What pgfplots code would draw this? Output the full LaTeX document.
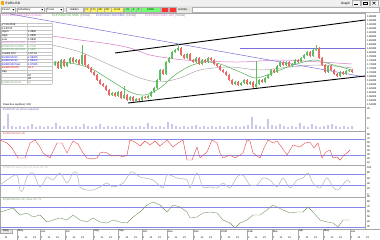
\documentclass[border=0pt]{standalone}
\usepackage{pgfplots}
\pgfplotsset{compat=1.18}
\usepackage{pgfplotstable}
\usepackage{fontspec}
\setmainfont{Liberation Sans}
\definecolor{upc}{RGB}{95,190,95}
\definecolor{dnc}{RGB}{235,105,105}
\definecolor{lvl}{RGB}{135,135,235}
\definecolor{maP}{RGB}{215,120,200}
\definecolor{maG}{RGB}{80,175,80}
\definecolor{maY}{RGB}{170,170,170}
\definecolor{tl}{RGB}{120,110,220}
\definecolor{volc}{RGB}{100,100,200}
\definecolor{rsic}{RGB}{230,70,70}
\definecolor{stc}{RGB}{190,190,190}
\definecolor{momc}{RGB}{115,150,95}
\definecolor{tb}{RGB}{212,208,200}
\newcommand{\tf}{\fontsize{3.2}{3.6}\selectfont}
\newcommand{\tff}{\fontsize{2.6}{3}\selectfont}

\pgfplotstableread{
x o c s
55 1.740 1.755 0
61 1.725 1.765 0
67 1.735 1.750 0
70 1.750 1.775 0
76 1.755 1.765 0
82 1.745 1.790 0.045
112 1.590 1.600 0
118 1.585 1.605 0
124 1.575 1.590 0.040
130 1.565 1.580 0
136 1.560 1.570 0
142 1.565 1.580 0
148 1.575 1.585 0
151 1.585 1.605 0
154 1.605 1.625 0
157 1.625 1.665 0
160 1.665 1.715 0
166 1.695 1.755 0
169 1.755 1.775 0
172 1.775 1.805 0
175 1.805 1.815 0
178 1.815 1.825 0.015
187 1.775 1.795 0
196 1.755 1.775 0
202 1.745 1.765 0
208 1.755 1.775 0
235 1.645 1.655 0
241 1.640 1.650 0
244 1.650 1.665 0
250 1.645 1.655 0
256 1.630 1.645 0.11
259 1.645 1.665 0
265 1.655 1.675 0
268 1.675 1.690 0
271 1.690 1.715 0
277 1.705 1.735 0
280 1.735 1.755 0
286 1.740 1.755 0
292 1.735 1.745 0
295 1.745 1.765 0
301 1.755 1.775 0
304 1.775 1.790 0
307 1.790 1.805 0
313 1.785 1.815 0
316 1.815 1.825 0.01
328 1.705 1.735 0
340 1.685 1.705 0
346 1.695 1.710 0
349 1.710 1.715 0
}\upt

\pgfplotstableread{
x o c s
52 1.750 1.740 0
58 1.755 1.725 0
64 1.765 1.735 0
73 1.775 1.755 0
79 1.765 1.745 0
85 1.790 1.740 0
88 1.740 1.725 0
91 1.725 1.705 0
94 1.705 1.690 0
97 1.690 1.665 0
100 1.665 1.645 0
103 1.645 1.635 0
106 1.635 1.615 0
109 1.615 1.590 0
115 1.600 1.585 0
121 1.605 1.575 0
127 1.590 1.565 0
133 1.580 1.560 0
139 1.570 1.565 0
145 1.580 1.575 0
163 1.715 1.695 0
181 1.825 1.790 0
184 1.790 1.775 0
190 1.795 1.765 0
193 1.765 1.755 0
199 1.775 1.745 0
205 1.765 1.755 0
211 1.775 1.765 0
214 1.765 1.745 0
217 1.745 1.735 0
220 1.735 1.715 0
223 1.715 1.705 0
226 1.705 1.690 0
229 1.690 1.665 0
232 1.665 1.645 0
238 1.655 1.640 0
247 1.665 1.645 0
253 1.655 1.630 0
262 1.665 1.655 0
274 1.715 1.705 0
283 1.755 1.740 0
289 1.755 1.735 0
298 1.765 1.755 0
310 1.805 1.785 0
319 1.825 1.775 0
322 1.775 1.740 0
325 1.740 1.705 0
331 1.735 1.715 0
334 1.715 1.695 0
337 1.695 1.685 0
343 1.705 1.695 0
352 1.715 1.705 0
}\dnt

\pgfplotsset{
  panel/.style={scale only axis, width=365pt, anchor=north west,
    xmin=0, xmax=365, xtick=\empty, ytick pos=right, yticklabel pos=right,
    axis line style={draw=gray!70, line width=0.35pt},
    tick style={draw=gray!70, line width=0.3pt}, major tick length=1.2pt,
    tick align=outside,
    yticklabel style={font=\tff, inner sep=0.6pt},
    /pgf/number format/assume math mode=true, clip=true},
  wick/.style={draw=none, mark=none, error bars/.cd, y dir=both, y explicit,
    error mark=none, error bar style={draw=#1, solid, line width=0.35pt}},
  body/.style={draw=none, mark=none, error bars/.cd, y dir=both, y explicit,
    error mark=none, error bar style={draw=#1, solid, line width=1.2pt}},
}
\newcommand{\trow}[4]{%
  \node[anchor=west,inner sep=0,font=\tff,text=#4] at (2pt,{-23pt-(#1+0.5)*3.6pt}) {#2};
  \node[anchor=west,inner sep=0,font=\tff,text=#4] at (28pt,{-23pt-(#1+0.5)*3.6pt}) {#3};}

\begin{document}
\begin{tikzpicture}[x=1pt,y=1pt]
\path[use as bounding box] (0,0) rectangle (380,-240);
\fill[white] (0,0) rectangle (380,-240);
% title bar
\fill[gray!12] (0,0) rectangle (380,-6.5);
\fill[orange!70!yellow] (1,-1.3) rectangle (4,-4.8);
\node[anchor=west, inner sep=0, font=\tf] at (5.5,-3.2) {EUR/USD};
\node[anchor=east, inner sep=0, font=\tf] at (350,-3.2) {Graph};
\foreach \bx in {352,361,370}{\draw[gray!60, fill=gray!8, line width=0.25pt] (\bx,-0.6) rectangle (\bx+8,-5.8);}
\draw[black, line width=0.4pt] (354,-4.6) -- (358,-4.6);
\draw[black, line width=0.3pt] (363,-1.8) rectangle (367,-4.6);
\draw[black, line width=0.4pt] (372.5,-1.8) -- (375.5,-4.6) (372.5,-4.6) -- (375.5,-1.8);
% toolbar
\fill[tb!55] (0,-6.5) rectangle (380,-13);
\foreach \a/\b/\t in {1/15/Period, 17/44/Subsidiary, 46/63/Trend}{
  \draw[gray!60, fill=white, line width=0.25pt] (\a,-7.6) rectangle (\b,-12);
  \fill[black] (\b-2.6,-9.2) -- (\b-0.8,-9.2) -- (\b-1.7,-10.5) -- cycle;
  \node[anchor=west, inner sep=0, font=\tff] at (\a+1,-9.8) {\t};}
\draw[gray!60, fill=gray!8, line width=0.25pt] (66,-7.6) rectangle (83,-12);
\node[inner sep=0, font=\tff] at (74.5,-9.8) {Hidden};
\foreach \a/\b/\t in {84/90/1Y, 90/97/1Y1, 97/104/307, 104/111/937, 111/123/13.60}{
  \draw[gray!60, fill=yellow!60, line width=0.2pt] (\a,-7.6) rectangle (\b,-12);
  \node[inner sep=0, font=\tff] at ({(\a+\b)/2},-9.8) {\t};}
\foreach \a/\b/\t in {124/131/31, 131/136/0, 136/141/0, 141/160/10000}{
  \draw[gray!60, fill=green!55, line width=0.2pt] (\a,-7.6) rectangle (\b,-12);
  \node[inner sep=0, font=\tff] at ({(\a+\b)/2},-9.8) {\t};}
\foreach \a/\b in {161/168, 169/176}{
  \draw[gray!60, fill=red!80, line width=0.2pt] (\a,-7.6) rectangle (\b,-12);}
\node[anchor=west, inner sep=0, font=\tff] at (178,-9.8) {Ind/Obs};
\draw[gray!60, fill=white, line width=0.25pt] (192,-7.6) rectangle (379,-12);

% ---------------- main price panel ----------------
\begin{axis}[panel, at={(0pt,-13pt)}, height=94.5pt, ymin=1.5275, ymax=2.0,
  ytick={1.54,1.56,1.58,1.60,1.62,1.64,1.66,1.68,1.70,1.72,1.74,1.76,1.78,1.80,1.82,1.84,1.86,1.88,1.90,1.92,1.94,1.96,1.98},
  yticklabel style={/pgf/number format/.cd, fixed, fixed zerofill, precision=5}]
% moving averages
\addplot[maY, line width=0.5pt, smooth] coordinates {(52,1.840)(80,1.805)(110,1.740)(140,1.675)(160,1.655)(180,1.675)(200,1.715)(230,1.730)(260,1.715)(290,1.730)(320,1.740)(352,1.725)};
\addplot[maP, line width=0.5pt, smooth] coordinates {(52,1.885)(80,1.865)(110,1.845)(130,1.825)(150,1.790)(175,1.770)(200,1.760)(240,1.755)(280,1.765)(320,1.755)(352,1.745)};
\addplot[maG, line width=0.5pt, smooth] coordinates {(52,1.755)(70,1.750)(90,1.725)(110,1.665)(130,1.605)(145,1.590)(160,1.625)(175,1.690)(190,1.735)(205,1.755)(220,1.745)(240,1.705)(255,1.675)(270,1.695)(285,1.725)(300,1.750)(315,1.765)(330,1.745)(352,1.715)};
% trend lines
\addplot[tl, line width=0.5pt] coordinates {(10,1.995)(365,1.680)};
\addplot[tl, line width=0.5pt] coordinates {(240,1.825)(365,1.825)};
\addplot[black, line width=0.9pt] coordinates {(115,1.800)(365,1.965)};
\addplot[black, line width=0.9pt] coordinates {(128,1.550)(365,1.685)};
% candles
\addplot[wick=upc] table[x=x, y expr={(\thisrow{o}+\thisrow{c})/2},
  y error plus expr={abs(\thisrow{c}-\thisrow{o})/2+0.006+\thisrow{s}},
  y error minus expr={abs(\thisrow{c}-\thisrow{o})/2+0.006}] {\upt};
\addplot[body=upc] table[x=x, y expr={(\thisrow{o}+\thisrow{c})/2},
  y error expr={max(abs(\thisrow{c}-\thisrow{o})/2,0.0015)}] {\upt};
\addplot[wick=dnc] table[x=x, y expr={(\thisrow{o}+\thisrow{c})/2},
  y error plus expr={abs(\thisrow{c}-\thisrow{o})/2+0.006+\thisrow{s}},
  y error minus expr={abs(\thisrow{c}-\thisrow{o})/2+0.006}] {\dnt};
\addplot[body=dnc] table[x=x, y expr={(\thisrow{o}+\thisrow{c})/2},
  y error expr={max(abs(\thisrow{c}-\thisrow{o})/2,0.0015)}] {\dnt};
\end{axis}

% ---------------- volume ----------------
\begin{axis}[panel, at={(0pt,-107.5pt)}, height=23.5pt, ymin=-2, ymax=21.5, ytick={0,10,20}]
\addplot[ybar, bar width=0.7pt, draw=none, fill=volc] coordinates {
(4,3)(8,15)(12,3)(16,2)(20,3)(24,2)(28,3)(32,5)(36,2)(40,3)(44,2)(48,3)(52,2)(56,6)(60,3)(64,2)(68,3)(72,2)(76,3)(80,2)(84,5)(88,3)(92,2)(96,3)(100,5)(104,2)(108,3)(112,2)(116,3)(120,2)(124,3)(128,2)(132,3)(136,2)(140,3)(144,2)(148,6)(152,3)(156,2)(160,3)(164,2)(168,7)(172,5)(176,3)(180,2)(184,3)(188,2)(192,3)(196,4)(200,2)(204,3)(208,2)(212,3)(216,2)(220,3)(224,2)(228,3)(232,2)(236,3)(240,2)(244,3)(248,4)(252,12)(256,4)(260,3)(264,2)(268,10)(272,4)(276,3)(280,5)(284,3)(288,2)(292,3)(296,2)(300,6)(304,3)(308,2)(312,5)(316,3)(320,2)(324,3)(328,4)(332,5)(336,3)(340,2)(344,3)(348,2)(352,3)};
\end{axis}

% ---------------- RSI ----------------
\begin{axis}[panel, at={(0pt,-131pt)}, height=34pt, ymin=5, ymax=90, ytick={10,20,...,80}]
\addplot[lvl, line width=0.45pt] coordinates {(0,70)(365,70)};
\addplot[lvl, line width=0.45pt] coordinates {(0,30)(365,30)};
\addplot[rsic, line width=0.4pt] coordinates {
(0,67.5)(7,60)(12,47.5)(18,22.5)(25,22.5)(30,60)(35,67.5)(40,50)(43,35)(50,22.5)(57,60)(62,60)(67,35)(73,65)(78,57.5)(83,35)(87,22.5)(92,20)(97,22.5)(100,35)(104,37.5)(107,35)(112,27.5)(118,30)(123,25)(127,30)(130,67.5)(135,62.5)(140,52.5)(145,65)(150,55)(155,65)(160,52.5)(167,67.5)(173,50)(178,60)(183,67.5)(187,17.5)(192,17.5)(197,50)(200,22.5)(207,37.5)(212,67.5)(217,60)(220,35)(223,22.5)(230,30)(235,22.5)(240,30)(243,35)(247,67.5)(250,65)(253,35)(260,22.5)(264,47.5)(268,67.5)(273,60)(277,65)(283,45)(287,30)(293,55)(300,50)(305,60)(310,62.5)(314,47.5)(318,60)(322,22.5)(326,37.5)(330,42.5)(333,22.5)(337,25)(340,17.5)(344,30)(347,35)(350,42.5)};
\end{axis}

% ---------------- Stochastic ----------------
\begin{axis}[panel, at={(0pt,-165pt)}, height=32pt, ymin=-10, ymax=110, ytick={0,20,...,100}]
\addplot[lvl, line width=0.45pt] coordinates {(0,76)(365,76)};
\addplot[lvl, line width=0.45pt] coordinates {(0,35)(365,35)};
\addplot[stc, line width=0.6pt, smooth] coordinates {
(0,35)(7,53.75)(17,72.5)(20,16.25)(23,16.25)(27,65)(33,80)(40,27.5)(47,65)(53,53.75)(60,80)(67,42.5)(73,80)(77,80)(80,27.5)(87,16.25)(93,16.25)(100,27.5)(107,42.5)(113,27.5)(123,42.5)(130,80)(133,83.75)(140,65)(153,53.75)(163,23.75)(167,72.5)(177,61.25)(187,53.75)(190,23.75)(197,80)(203,27.5)(210,27.5)(217,23.75)(223,42.5)(230,23.75)(237,65)(243,72.5)(250,35)(257,35)(263,61.25)(270,53.75)(277,27.5)(283,61.25)(290,23.75)(297,53.75)(303,61.25)(308,80)(313,42.5)(320,23.75)(327,61.25)(333,27.5)(338,16.25)(347,53.75)(350,42.5)};
\end{axis}

% ---------------- third oscillator ----------------
\begin{axis}[panel, at={(0pt,-197pt)}, height=32pt, ymin=26, ymax=90, ytick={30,40,...,90}]
\addplot[lvl, line width=0.45pt] coordinates {(0,70)(365,70)};
\addplot[lvl, line width=0.45pt] coordinates {(0,30)(365,30)};
\addplot[momc, line width=0.4pt] coordinates {
(0,60)(7,64)(13,68)(17,60)(20,54)(27,58)(33,50)(40,54)(47,40)(53,44)(60,48)(67,44)(73,54)(80,44)(87,40)(93,48)(100,40)(107,38)(113,44)(120,40)(127,38)(133,50)(140,60)(147,74)(153,80)(160,74)(167,60)(173,74)(180,70)(187,60)(190,48)(197,50)(203,58)(210,60)(217,58)(223,44)(230,38)(235,28)(240,38)(247,44)(253,54)(260,54)(267,64)(273,74)(277,70)(283,64)(290,58)(297,60)(303,60)(308,70)(313,60)(320,44)(327,40)(333,38)(338,30)(343,44)(350,44)};
\end{axis}

% legend line
\node[anchor=west, inner sep=0, font=\tf, text=maP] at (2,-15.3) {EUR/USD 200 SMA (Close)};
\node[anchor=west, inner sep=0, font=\tf, text=maG] at (52,-15.3) {EUR/USD 50 SMA};
\node[anchor=west, inner sep=0, font=\tf, text=gray] at (80,-15.3) {(Close)};
\node[anchor=west, inner sep=0, font=\tf, text=tl] at (96,-15.3) {EUR/USD 100 SMA};
\node[anchor=west, inner sep=0, font=\tf, text=gray] at (126,-15.3) {(Close)};
\node[anchor=west, inner sep=0, font=\tf, text=maP] at (145,-15.3) {EUR/USD SMA 100};
\node[anchor=west, inner sep=0, font=\tf, text=gray] at (175,-15.3) {(Close)};

% info table
\fill[white] (1,-23) rectangle (52,-84.2);
\foreach \i in {0,...,17}{\draw[gray!45, line width=0.2pt] (1pt,{-23pt-\i*3.6pt}) -- (52pt,{-23pt-\i*3.6pt});}
\draw[gray!45, line width=0.2pt] (1,-23) -- (1,-84.2) (27,-23) -- (27,-84.2) (52,-23) -- (52,-84.2);
\trow{0}{27.06.2008}{}{black}
\trow{1}{13:00:00}{}{black}
\trow{2}{Open}{1.9860}{black}
\trow{3}{High}{1.9890}{black}
\trow{4}{Low}{1.9840}{black}
\trow{5}{EUR/USD 200 SMA}{1.9590}{maP}
\trow{6}{EUR/USD 50 SMA}{1.9720}{maG}
\trow{7}{EUR/USD 100 SMA}{1.9650}{maG}
\trow{8}{Candle RSI}{1.97 lut}{black}
\trow{9}{EUR/USD R1}{1.98425}{blue}
\trow{10}{EUR/USD S1}{1.98200}{blue}
\trow{11}{EUR/USD Pivot}{1.97925}{blue}
\trow{12}{EUR/USD RSI}{58.4}{red}
\trow{13}{Kap}{}{black}
\trow{14}{}{52}{black}
\trow{15}{}{48}{black}
\trow{16}{EUR/USD Stoch}{45}{momc}

% panel labels
\node[anchor=west, inner sep=0, font=\tff] at (3,-105.2) {Draw box sep(hex): 500};
\node[anchor=west, inner sep=0, font=\tff, text=volc] at (3,-110) {EUR/USD Vol (Close adjusted)};
\node[anchor=west, inner sep=0, font=\tff, text=rsic] at (3,-133.5) {EUR/USD RSI (14)};
\node[anchor=west, inner sep=0, font=\tff, text=stc] at (3,-167.5) {EUR/USD Stoch (14,3,3) Close  20 / 80};
\node[anchor=west, inner sep=0, font=\tff, text=momc] at (3,-199.5) {EUR/USD RSI (14) Close  30 / 70};

% date axis
\draw[gray!70, line width=0.3pt] (0,-229) -- (380,-229);
\fill[gray!20] (0,-229) rectangle (12,-233.6);
\draw[gray!70, line width=0.25pt] (0,-229) rectangle (12,-233.6);
\node[inner sep=0, font=\tff] at (6,-231.3) {Daily};
\node[inner sep=0, font=\tff] at (6,-237.5) {11};
\foreach \p/\m in {17/May, 40/Jun, 65/Jul, 93/Aug, 118/Sep, 142/Oct, 167/Nov, 193/Dec, 220/2008, 247/Feb, 272/Mar, 298/Apr, 323/May, 350/Jun}{
  \draw[gray!70, line width=0.25pt] (\p,-229) -- (\p,-240);
  \node[anchor=west, inner sep=0, font=\tff] at (\p+1,-231.3) {\m};
  \node[inner sep=0, font=\tff] at (\p+1.5,-237.5) {1};
  \node[inner sep=0, font=\tff] at (\p+9,-237.5) {11};
  \node[inner sep=0, font=\tff] at (\p+17.5,-237.5) {21};}
\end{tikzpicture}
\end{document}
